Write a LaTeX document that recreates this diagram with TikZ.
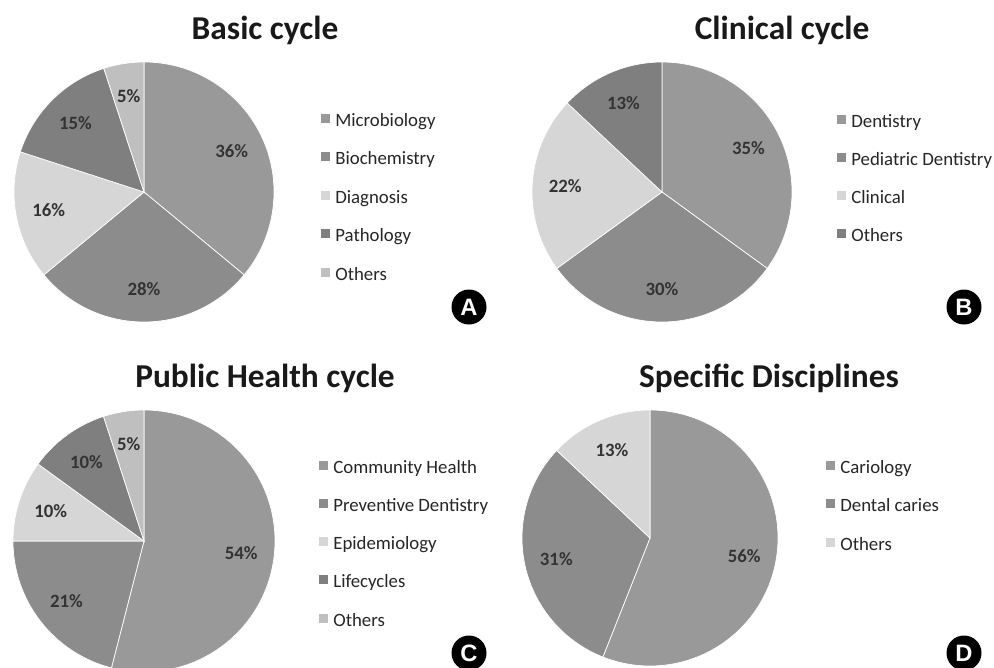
\documentclass[tikz,border=0pt]{standalone}
\usepackage{fontspec}
\setmainfont{Carlito}
\newfontfamily\badgefont{Liberation Sans}
\usetikzlibrary{positioning}
\definecolor{serA}{HTML}{999999}
\definecolor{serB}{HTML}{8C8C8C}
\definecolor{serC}{HTML}{D6D6D6}
\definecolor{serD}{HTML}{7F7F7F}
\definecolor{serE}{HTML}{BFBFBF}

\begin{document}
\begin{tikzpicture}[x=0.02cm, y=0.02cm,
	title/.style={anchor=base, inner sep=0pt, text=black!90, font=\fontsize{19}{22}\selectfont\bfseries},
	pct/.style={inner sep=0pt, text=black!80, font=\fontsize{10.7}{12}\selectfont\bfseries},
	legtext/.style={anchor=base west, inner sep=0pt, text height=1.9ex, text depth=0pt, text=black!85, font=\fontsize{10.7}{12}\selectfont},
	legkey/.style={minimum size=0.18cm, inner sep=0pt},
	slice/.style={draw=white, line width=0.4pt},
	badge/.style={circle, fill=black, text=white, minimum size=0.7cm, inner sep=0pt, font=\badgefont\fontsize{13.5}{14}\selectfont\bfseries}]
	\useasboundingbox (0,0) rectangle (994,-667);
	\fill[white] (0,0) rectangle (994,-667);
	\clip (0,0) rectangle (994,-667);

	% A: basic cycle
	\node[title] (tA) at (265,-39) {Basic cycle};
	\coordinate (pieA) at (144,-192);
	\foreach \p/\c [count=\i, remember=\e as \s (initially 90)] in {36/serA,28/serB,16/serC,15/serD,5/serE}{
		\pgfmathsetmacro\e{\s-3.6*\p}
		\pgfmathsetmacro\m{\s-1.8*\p}
		\fill[slice, fill=\c] (pieA) -- ++(\s:130) arc[start angle=\s, end angle=\e, radius=130] -- cycle;
		\node[pct] (pA\i) at ([shift={(\m:97)}]pieA) {\p\%};
	}
	\foreach \t/\c [count=\i] in {Microbiology/serA,Biochemistry/serB,Diagnosis/serC,Pathology/serD,Others/serE}{
		\node[legtext] (lA\i) at (335,{-126-38.5*(\i-1)}) {\t};
		\node[legkey, fill=\c, left=0.1cm of lA\i] (kA\i) {};
	}
	\node[badge] (bA) at (469,-307) {A};

	% B: clinical cycle
	\node[title] (tB) at (782,-39) {Clinical cycle};
	\coordinate (pieB) at (662,-192);
	\foreach \p/\c [count=\i, remember=\e as \s (initially 90)] in {35/serA,30/serB,22/serC,13/serD}{
		\pgfmathsetmacro\e{\s-3.6*\p}
		\pgfmathsetmacro\m{\s-1.8*\p}
		\fill[slice, fill=\c] (pieB) -- ++(\s:130) arc[start angle=\s, end angle=\e, radius=130] -- cycle;
		\node[pct] (pB\i) at ([shift={(\m:97)}]pieB) {\p\%};
	}
	\foreach \t/\c [count=\i] in {Dentistry/serA,Pediatric Dentistry/serB,Clinical/serC,Others/serD}{
		\node[legtext] (lB\i) at (851,{-127-38*(\i-1)}) {\t};
		\node[legkey, fill=\c, left=0.1cm of lB\i] (kB\i) {};
	}
	\node[badge] (bB) at (964,-307) {B};

	% C: public health cycle
	\node[title] (tC) at (265,-387) {Public Health cycle};
	\coordinate (pieC) at (144,-541);
	\foreach \p/\c [count=\i, remember=\e as \s (initially 90)] in {54/serA,21/serB,10/serC,10/serD,5/serE}{
		\pgfmathsetmacro\e{\s-3.6*\p}
		\pgfmathsetmacro\m{\s-1.8*\p}
		\fill[slice, fill=\c] (pieC) -- ++(\s:131) arc[start angle=\s, end angle=\e, radius=131] -- cycle;
		\node[pct] (pC\i) at ([shift={(\m:98)}]pieC) {\p\%};
	}
	\foreach \t/\c [count=\i] in {Community Health/serA,Preventive Dentistry/serB,Epidemiology/serC,Lifecycles/serD,Others/serE}{
		\node[legtext] (lC\i) at (333,{-473-38.3*(\i-1)}) {\t};
		\node[legkey, fill=\c, left=0.1cm of lC\i] (kC\i) {};
	}
	\node[badge] (bC) at (469,-653) {C};

	% D: specific disciplines
	\node[title] (tD) at (769,-387) {Specific Disciplines};
	\coordinate (pieD) at (650,-538);
	\foreach \p/\c [count=\i, remember=\e as \s (initially 90)] in {56/serA,31/serB,13/serC}{
		\pgfmathsetmacro\e{\s-3.6*\p}
		\pgfmathsetmacro\m{\s-1.8*\p}
		\fill[slice, fill=\c] (pieD) -- ++(\s:128) arc[start angle=\s, end angle=\e, radius=128] -- cycle;
		\node[pct] (pD\i) at ([shift={(\m:96)}]pieD) {\p\%};
	}
	\foreach \t/\c [count=\i] in {Cariology/serA,Dental caries/serB,Others/serC}{
		\node[legtext] (lD\i) at (840,{-473-38.5*(\i-1)}) {\t};
		\node[legkey, fill=\c, left=0.1cm of lD\i] (kD\i) {};
	}
	\node[badge] (bD) at (964,-653) {D};
\end{tikzpicture}
\end{document}
